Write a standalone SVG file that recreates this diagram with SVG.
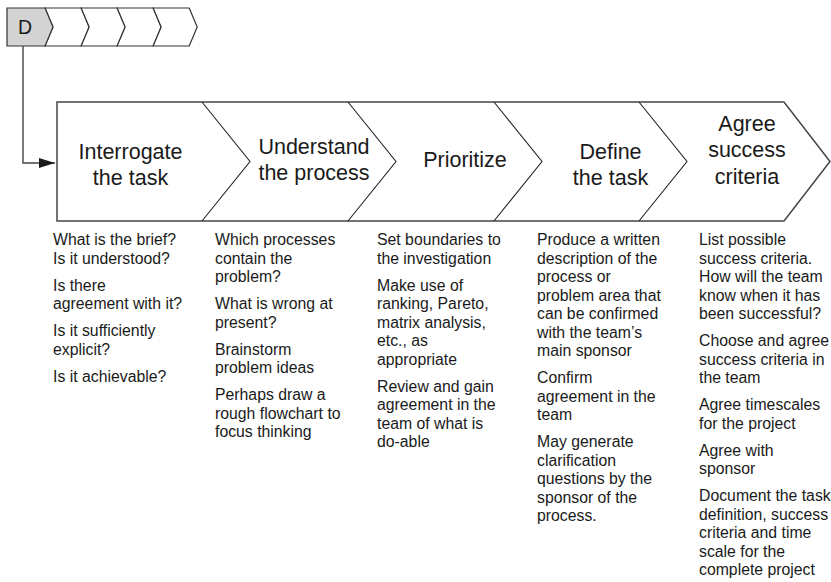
<svg xmlns="http://www.w3.org/2000/svg" width="831" height="582" viewBox="0 0 831 582">
<style>
.bg{fill:#ffffff}
.sm{fill:#ffffff;stroke:#333333;stroke-width:1.2;stroke-linejoin:miter}
.smd{fill:#d3d3d3;stroke:#333333;stroke-width:1.2}
.big{fill:#ffffff;stroke:#444444;stroke-width:1.5}
.div{fill:none;stroke:#222222;stroke-width:1.1}
.conn{fill:none;stroke:#444444;stroke-width:1.4}
.t{font-family:"Liberation Sans",Arial,sans-serif;fill:#1a1a1a}
.title{font-size:21.5px;text-anchor:middle}
.body{font-size:15.8px}
.d{font-size:19.5px;text-anchor:middle}
</style>
<defs>
<marker id="arr" markerWidth="16" markerHeight="10" refX="16" refY="5" orient="auto" markerUnits="userSpaceOnUse">
<path d="M0,0 L16,5 L0,10 Z" fill="#1a1a1a"/>
</marker>
</defs>
<rect class="bg" x="0" y="0" width="831" height="582"/>

<g id="stage-bar">
<polygon class="sm" points="189.2,8 197.2,27 189.2,46 153,46 161,27 153,8"/>
<polygon class="sm" points="153,8 161,27 153,46 117,46 125,27 117,8"/>
<polygon class="sm" points="117,8 125,27 117,46 81,46 89,27 81,8"/>
<polygon class="sm" points="81,8 89,27 81,46 45,46 53,27 45,8"/>
<g id="stage-D">
<polygon class="smd" points="7,8 45,8 53,27 45,46 7,46"/>
<text class="t d" x="25" y="34">D</text>
</g>
</g>

<g id="connectors">
<path class="conn" d="M23,46 V163 H55" marker-end="url(#arr)"/>
</g>

<g id="process-band">
<polygon class="big" points="57,102 784,102 830,161.5 784,221 57,221"/>
<g class="div">
<polyline points="202,102 250,161.5 202,221"/>
<polyline points="348,102 396,161.5 348,221"/>
<polyline points="494,102 542,161.5 494,221"/>
<polyline points="639,102 687,161.5 639,221"/>
</g>
</g>

<g id="step-interrogate">
<text class="t title" x="130.5" y="159">Interrogate</text>
<text class="t title" x="130.5" y="185">the task</text>
<text class="t body" x="53">
<tspan x="53" y="245">What is the brief?</tspan>
<tspan x="53" y="263.5">Is it understood?</tspan>
<tspan x="53" y="290.5">Is there</tspan>
<tspan x="53" y="309">agreement with it?</tspan>
<tspan x="53" y="336">Is it sufficiently</tspan>
<tspan x="53" y="354.5">explicit?</tspan>
<tspan x="53" y="381.5">Is it achievable?</tspan>
</text>
</g>

<g id="step-understand">
<text class="t title" x="314" y="153.5">Understand</text>
<text class="t title" x="314" y="180">the process</text>
<text class="t body">
<tspan x="215" y="245">Which processes</tspan>
<tspan x="215" y="263.5">contain the</tspan>
<tspan x="215" y="282">problem?</tspan>
<tspan x="215" y="309">What is wrong at</tspan>
<tspan x="215" y="327.5">present?</tspan>
<tspan x="215" y="354.5">Brainstorm</tspan>
<tspan x="215" y="373">problem ideas</tspan>
<tspan x="215" y="400">Perhaps draw a</tspan>
<tspan x="215" y="418.5">rough flowchart to</tspan>
<tspan x="215" y="437">focus thinking</tspan>
</text>
</g>

<g id="step-prioritize">
<text class="t title" x="465" y="167">Prioritize</text>
<text class="t body">
<tspan x="377" y="245">Set boundaries to</tspan>
<tspan x="377" y="263.5">the investigation</tspan>
<tspan x="377" y="290.5">Make use of</tspan>
<tspan x="377" y="309">ranking, Pareto,</tspan>
<tspan x="377" y="327.5">matrix analysis,</tspan>
<tspan x="377" y="346">etc., as</tspan>
<tspan x="377" y="364.5">appropriate</tspan>
<tspan x="377" y="391.5">Review and gain</tspan>
<tspan x="377" y="410">agreement in the</tspan>
<tspan x="377" y="428.5">team of what is</tspan>
<tspan x="377" y="447">do-able</tspan>
</text>
</g>

<g id="step-define">
<text class="t title" x="610.5" y="158.5">Define</text>
<text class="t title" x="610.5" y="185">the task</text>
<text class="t body">
<tspan x="537" y="245">Produce a written</tspan>
<tspan x="537" y="263.5">description of the</tspan>
<tspan x="537" y="282">process or</tspan>
<tspan x="537" y="300.5">problem area that</tspan>
<tspan x="537" y="319">can be confirmed</tspan>
<tspan x="537" y="337.5">with the team’s</tspan>
<tspan x="537" y="356">main sponsor</tspan>
<tspan x="537" y="383">Confirm</tspan>
<tspan x="537" y="401.5">agreement in the</tspan>
<tspan x="537" y="420">team</tspan>
<tspan x="537" y="447">May generate</tspan>
<tspan x="537" y="465.5">clarification</tspan>
<tspan x="537" y="484">questions by the</tspan>
<tspan x="537" y="502.5">sponsor of the</tspan>
<tspan x="537" y="521">process.</tspan>
</text>
</g>

<g id="step-agree">
<text class="t title" x="747" y="130.5">Agree</text>
<text class="t title" x="747" y="157">success</text>
<text class="t title" x="747" y="183.5">criteria</text>
<text class="t body">
<tspan x="699" y="245">List possible</tspan>
<tspan x="699" y="263.5">success criteria.</tspan>
<tspan x="699" y="282">How will the team</tspan>
<tspan x="699" y="300.5">know when it has</tspan>
<tspan x="699" y="319">been successful?</tspan>
<tspan x="699" y="346">Choose and agree</tspan>
<tspan x="699" y="364.5">success criteria in</tspan>
<tspan x="699" y="383">the team</tspan>
<tspan x="699" y="410">Agree timescales</tspan>
<tspan x="699" y="428.5">for the project</tspan>
<tspan x="699" y="455.5">Agree with</tspan>
<tspan x="699" y="474">sponsor</tspan>
<tspan x="699" y="501">Document the task</tspan>
<tspan x="699" y="519.5">definition, success</tspan>
<tspan x="699" y="538">criteria and time</tspan>
<tspan x="699" y="556.5">scale for the</tspan>
<tspan x="699" y="575">complete project</tspan>
</text>
</g>
</svg>
